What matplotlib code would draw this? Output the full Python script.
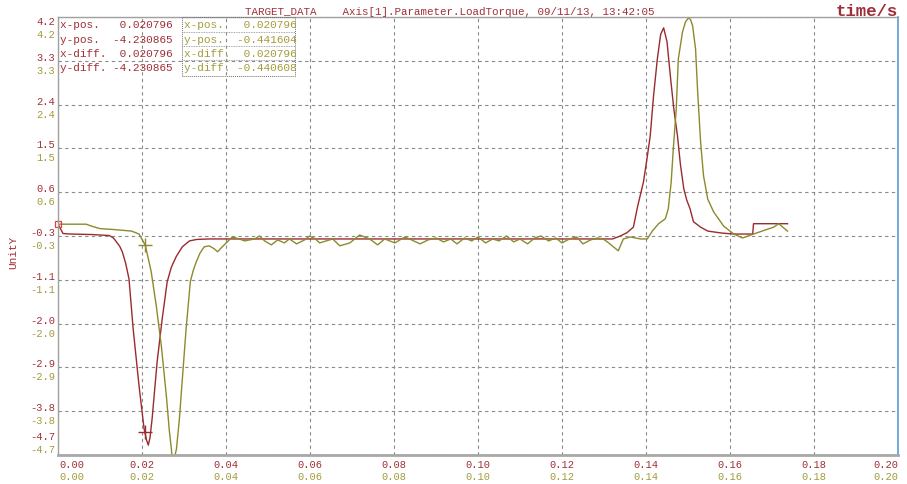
import numpy as np
import matplotlib.pyplot as plt
from matplotlib import transforms
from matplotlib.patches import Rectangle

# red trace (reference)
red_x = [0.0, 0.0012, 0.0030, 0.0080, 0.0122, 0.0132, 0.0140, 0.0147, 0.0153, 0.0161,
         0.0169, 0.0179, 0.0193, 0.0205, 0.0211, 0.0215, 0.0219, 0.0224, 0.0236, 0.0248,
         0.0260, 0.0270, 0.0282, 0.0296, 0.0313, 0.0330, 0.0360,
         0.1320, 0.1339, 0.1355, 0.1370, 0.1380, 0.1394, 0.1402, 0.1410, 0.1418, 0.1427,
         0.1435, 0.1442, 0.1450, 0.1458, 0.1466, 0.1475, 0.1482, 0.1490, 0.1497, 0.1505,
         0.1513, 0.1530, 0.1547, 0.1580, 0.1609, 0.1654, 0.1656, 0.1737]
red_y = [-0.01, -0.20, -0.21, -0.22, -0.24, -0.29, -0.38, -0.46, -0.57, -0.80,
         -1.12, -2.14, -3.30, -4.17, -4.40, -4.50, -4.35, -3.97, -2.81, -1.94,
         -1.18, -0.88, -0.66, -0.47, -0.35, -0.32, -0.31,
         -0.31, -0.25, -0.18, -0.07, 0.35, 0.85, 1.30, 1.78, 2.60, 3.35,
         3.85, 3.98, 3.70, 3.00, 2.35, 1.78, 1.20, 0.71, 0.48, 0.30,
         0.04, -0.07, -0.15, -0.19, -0.21, -0.21, 0.00, 0.00]

# olive trace (measured)
olive_x = [0.0, 0.0067, 0.0080, 0.0100, 0.0135, 0.0175, 0.0193, 0.0208, 0.0222, 0.0234,
           0.0246, 0.0258, 0.0265, 0.0270, 0.0272, 0.0276, 0.0282, 0.0289, 0.0296, 0.0305,
           0.0315, 0.0322, 0.0329, 0.0338,
           0.0348, 0.0360, 0.0372, 0.0380, 0.0391, 0.0415, 0.0432, 0.0444, 0.0468, 0.0480,
           0.0492, 0.0508, 0.0523, 0.0539, 0.0551, 0.0568, 0.0587, 0.0599, 0.0613, 0.0623,
           0.0654, 0.0671, 0.0695, 0.0718, 0.0742, 0.0761, 0.0778, 0.0802, 0.0826, 0.0842,
           0.0862, 0.0881, 0.0900, 0.0918, 0.0935, 0.0950, 0.0968, 0.0985, 0.1000, 0.1018,
           0.1035, 0.1050, 0.1068, 0.1085, 0.1100, 0.1118, 0.1135, 0.1150, 0.1168, 0.1185,
           0.1200, 0.1218, 0.1235, 0.1250, 0.1268, 0.1285, 0.1298, 0.1308, 0.1334, 0.1346,
           0.1363, 0.1387, 0.1403, 0.1415, 0.1430, 0.1446, 0.1453, 0.1460, 0.1465, 0.1472,
           0.1477, 0.1487, 0.1494, 0.1501, 0.1506, 0.1511, 0.1518, 0.1523, 0.1530, 0.1537,
           0.1547, 0.1561, 0.1585, 0.1609, 0.1630, 0.1656, 0.1690, 0.1704, 0.1716, 0.1737]
olive_y = [-0.01, -0.01, -0.05, -0.10, -0.12, -0.15, -0.21, -0.44, -0.98, -1.67,
           -2.48, -3.50, -4.20, -4.58, -4.80, -4.80, -4.58, -3.97, -3.16, -2.14,
           -1.18, -0.95, -0.78, -0.60,
           -0.47, -0.45, -0.51, -0.57, -0.47, -0.27, -0.31, -0.35, -0.31, -0.25,
           -0.35, -0.43, -0.33, -0.39, -0.31, -0.41, -0.33, -0.25, -0.31, -0.39,
           -0.31, -0.45, -0.39, -0.23, -0.31, -0.43, -0.31, -0.39, -0.27, -0.33,
           -0.41, -0.33, -0.29, -0.37, -0.31, -0.41, -0.29, -0.35, -0.27, -0.39,
           -0.31, -0.35, -0.25, -0.37, -0.31, -0.41, -0.29, -0.25, -0.35, -0.29,
           -0.39, -0.31, -0.27, -0.41, -0.33, -0.29, -0.31, -0.37, -0.55, -0.31,
           -0.27, -0.31, -0.31, -0.15, 0.00, 0.10, 0.30, 0.85, 1.52, 2.33,
           3.35, 3.90, 4.10, 4.18, 4.15, 4.02, 3.55, 2.68, 1.66, 0.97,
           0.50, 0.24, -0.05, -0.21, -0.29, -0.21, -0.11, -0.07, 0.00, -0.15]

x_ticks = [0.00, 0.02, 0.04, 0.06, 0.08, 0.10, 0.12, 0.14, 0.16, 0.18, 0.20]
x_labels = ["0.00", "0.02", "0.04", "0.06", "0.08", "0.10", "0.12", "0.14", "0.16", "0.18", "0.20"]
y_ticks = np.linspace(-4.7, 4.2, 11)
y_labels = ["-4.7", "-3.8", "-2.9", "-2.0", "-1.1", "-0.3", "0.6", "1.5", "2.4", "3.3", "4.2"]

cursor_x = 0.020796
cursor_red_y = -4.230865
cursor_olive_y = -0.441604
readout_names = ["x-pos.", "y-pos.", "x-diff.", "y-diff."]
red_values = [0.020796, -4.230865, 0.020796, -4.230865]
olive_values = [0.020796, -0.441604, 0.020796, -0.440608]

RED = "#9a2b2e"
OLIVE = "#8c8a2c"
RED_TXT = "#a03038"
OLIVE_TXT = "#a39c3c"
MONO = "Liberation Mono"

W, H = 907, 485
fig = plt.figure(figsize=(W / 100, H / 100), dpi=100)
ax = fig.add_axes([58 / W, 29 / H, 840 / W, 438 / H])
ax.set_xlim(0, 0.2)
ax.set_ylim(-4.7, 4.2)

ax.set_xticks(x_ticks)
ax.set_yticks(y_ticks)
ax.tick_params(length=0, labelbottom=False, labelleft=False)
ax.grid(True, color="#8a8a8a", linestyle=(0, (3, 3)), linewidth=0.8)

for side in ["left", "top"]:
    ax.spines[side].set_color("#a0a0a0")
    ax.spines[side].set_linewidth(1.0)
ax.spines["bottom"].set_color("#a8a8a8")
ax.spines["bottom"].set_linewidth(2.0)
ax.spines["right"].set_color("#5b9bd5")
ax.spines["right"].set_linewidth(1.2)

ax.plot(red_x, red_y, color=RED, linewidth=1.0)
ax.plot(olive_x, olive_y, color=OLIVE, linewidth=1.0)
ax.plot([red_x[0]], [red_y[0]], marker="s", markersize=5, markerfacecolor="none",
        markeredgecolor="#e04040", markeredgewidth=0.9, clip_on=False)
ax.plot([cursor_x], [cursor_red_y], marker="+", markersize=10, color=RED, markeredgewidth=1.0)
ax.plot([cursor_x], [cursor_olive_y], marker="+", markersize=10, color=OLIVE, markeredgewidth=1.0)

# y tick labels, two rows (red above, olive below)
ytrans = ax.get_yaxis_transform()
n = len(y_ticks)
for i, (v, lab) in enumerate(zip(y_ticks, y_labels)):
    if i == n - 1:
        dr, do = -4, -17
    elif i == 0:
        dr, do = 19, 6
    else:
        dr, do = 4, -9
    tr = transforms.offset_copy(ytrans, fig=fig, x=-3, y=dr, units="dots")
    to = transforms.offset_copy(ytrans, fig=fig, x=-3, y=do, units="dots")
    ax.text(0, v, lab, transform=tr, ha="right", va="center", color=RED_TXT,
            family=MONO, fontsize=7.5)
    ax.text(0, v, lab, transform=to, ha="right", va="center", color=OLIVE_TXT,
            family=MONO, fontsize=7.5)

# x tick labels, two rows
xtrans = ax.get_xaxis_transform()
for i, (v, lab) in enumerate(zip(x_ticks, x_labels)):
    ha = "left" if i == 0 else ("right" if i == len(x_ticks) - 1 else "center")
    dx = 1 if i == 0 else 0
    tr = transforms.offset_copy(xtrans, fig=fig, x=dx, y=-9, units="dots")
    to = transforms.offset_copy(xtrans, fig=fig, x=dx, y=-21, units="dots")
    ax.text(v, 0, lab, transform=tr, ha=ha, va="center", color=RED_TXT,
            family=MONO, fontsize=7.5)
    ax.text(v, 0, lab, transform=to, ha=ha, va="center", color=OLIVE_TXT,
            family=MONO, fontsize=7.5)

# header texts
fig.text(245 / W, 1 - 12 / H, "TARGET_DATA    Axis[1].Parameter.LoadTorque, 09/11/13, 13:42:05",
         color=RED_TXT, family=MONO, fontsize=7.8, ha="left", va="center")
fig.text(898 / W, 1 - 12 / H, "time/s", color=RED_TXT, family=MONO, fontsize=12.5,
         fontweight="bold", ha="right", va="center")
fig.text(13 / W, 1 - 252 / H, "UnitY", color=RED_TXT, family=MONO, fontsize=8,
         rotation=90, ha="center", va="center")

# cursor readouts
row_y = [25, 40, 54, 68]
for name, rv, ov, yy in zip(readout_names, red_values, olive_values, row_y):
    fig.text(60 / W, 1 - yy / H, f"{name:<8}{rv:>9.6f}", color=RED_TXT, family=MONO,
             fontsize=8, ha="left", va="center")
    fig.text(184 / W, 1 - yy / H, f"{name:<8}{ov:>9.6f}", color=OLIVE_TXT, family=MONO,
             fontsize=8, ha="left", va="center")

fig.patches.append(Rectangle((182 / W, 1 - 77 / H), 113 / W, 59 / H, transform=fig.transFigure,
                             fill=False, edgecolor="#707070", linestyle=(0, (1, 1)), linewidth=0.7))
for yy in [33, 47, 61]:
    fig.add_artist(plt.Line2D([182 / W, 295 / W], [1 - yy / H, 1 - yy / H], transform=fig.transFigure,
                              color="#8a8a8a", linestyle=(0, (1, 1)), linewidth=0.6))

fig.savefig("out.png", dpi=100)
